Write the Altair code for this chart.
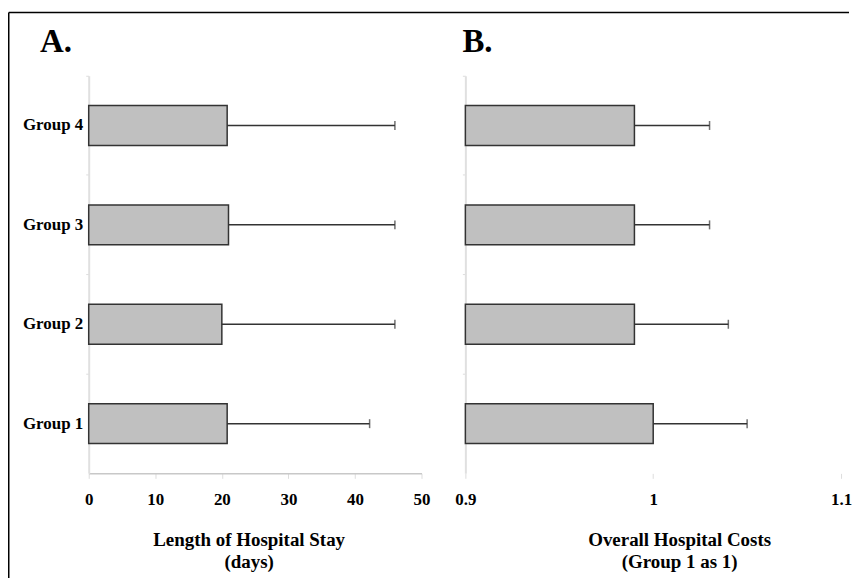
import altair as alt
import pandas as pd

# ---- data ----
groups = ["Group 1", "Group 2", "Group 3", "Group 4"]
los_mean = [20.8, 20.0, 21.0, 20.8]
los_upper = [42.2, 46.0, 46.0, 46.0]
cost_mean = [1.00, 0.99, 0.99, 0.99]
cost_upper = [1.05, 1.04, 1.03, 1.03]
los_ticks = [0, 10, 20, 30, 40, 50]
cost_ticks = [0.9, 1.0, 1.1]
los_title = "Length of Hospital Stay\n(days)"
cost_title = "Overall Hospital Costs\n(Group 1 as 1)"

df = pd.DataFrame({
    "group": groups,
    "los_mean": los_mean,
    "los_upper": los_upper,
    "cost_mean": cost_mean,
    "cost_upper": cost_upper,
})

FONT = "Liberation Serif"
ORDER = groups[::-1]
H = 399
one = pd.DataFrame({"k": [0]})


def panel(mean_col, upper_col, domain, ticks, width, fmt, letter, letter_dx,
          title, title_x, show_labels, show_xdomain, border):
    xscale = alt.Scale(domain=domain, nice=False, zero=False)
    xaxis = alt.Axis(values=ticks, format=fmt, title=None, grid=False,
                     domain=show_xdomain, domainColor="#c8c8c8", domainWidth=1.5,
                     ticks=True, tickColor="#dddddd", tickSize=5,
                     labelFont=FONT, labelFontWeight="bold", labelFontSize=17,
                     labelColor="#000", labelPadding=13, labelFlush=False)
    yaxis = alt.Axis(title=None, labels=show_labels, grid=False,
                     domain=True, domainColor="#e0e0e0", domainWidth=2,
                     ticks=True, tickColor="#dddddd", tickSize=3, bandPosition=0,
                     labelFont=FONT, labelFontWeight="bold", labelFontSize=17,
                     labelColor="#000", labelPadding=3)
    yscale = alt.Scale(domain=ORDER, paddingInner=0, paddingOuter=0)
    y = alt.Y("group:N", sort=ORDER, scale=yscale, axis=yaxis)
    base = alt.Chart(df)

    bars = base.mark_bar(size=40, color="#c0c0c0", stroke="#333333",
                         strokeWidth=1.5).encode(
        x=alt.X(mean_col + ":Q", scale=xscale, axis=xaxis),
        x2=alt.datum(domain[0]),
        y=y,
    )
    err = base.mark_rule(color="#333333", strokeWidth=1.5).encode(
        x=alt.X(mean_col + ":Q", scale=xscale, axis=xaxis),
        x2=alt.X2(upper_col + ":Q"),
        y=y,
    )
    cap = base.mark_tick(color="#333333", thickness=1.5, size=9,
                         orient="vertical").encode(
        x=alt.X(upper_col + ":Q", scale=xscale, axis=xaxis),
        y=y,
    )
    letter_txt = alt.Chart(one).mark_text(
        text=letter, font=FONT, fontWeight="bold", fontSize=33,
        align="left", baseline="alphabetic", color="#000"
    ).encode(x=alt.value(letter_dx), y=alt.value(-24))
    title_txt = alt.Chart(one).mark_text(
        text=title, lineBreak="\n", font=FONT, fontWeight="bold", fontSize=19,
        align="center", baseline="alphabetic", lineHeight=22, color="#000"
    ).encode(x=alt.value(title_x), y=alt.value(472))

    layers = [bars, err, cap, letter_txt, title_txt]
    if border:
        top = alt.Chart(one).mark_rule(color="#000", strokeWidth=1.5).encode(
            x=alt.value(-80.25), x2=alt.value(763), y=alt.value(-63.5))
        left = alt.Chart(one).mark_rule(color="#000", strokeWidth=1.5).encode(
            x=alt.value(-80.25), y=alt.value(-63.5), y2=alt.value(504))
        layers += [top, left]
    return alt.layer(*layers).properties(width=width, height=H)


left_panel = panel("los_mean", "los_upper", [0, 50], los_ticks, 334, "d",
                   "A.", -49, los_title, 161, True, True, True)
right_panel = panel("cost_mean", "cost_upper", [0.9, 1.1], cost_ticks, 377, "~g",
                    "B.", -3, cost_title, 215, False, False, False)

chart = alt.hconcat(left_panel, right_panel, spacing=44, bounds="flush").properties(
    padding={"left": 0, "top": 2, "right": 0, "bottom": 0},
    background="white",
).configure_view(stroke=None, strokeWidth=0)

chart.save("out.html", embed_options={"renderer": "svg", "actions": False})
